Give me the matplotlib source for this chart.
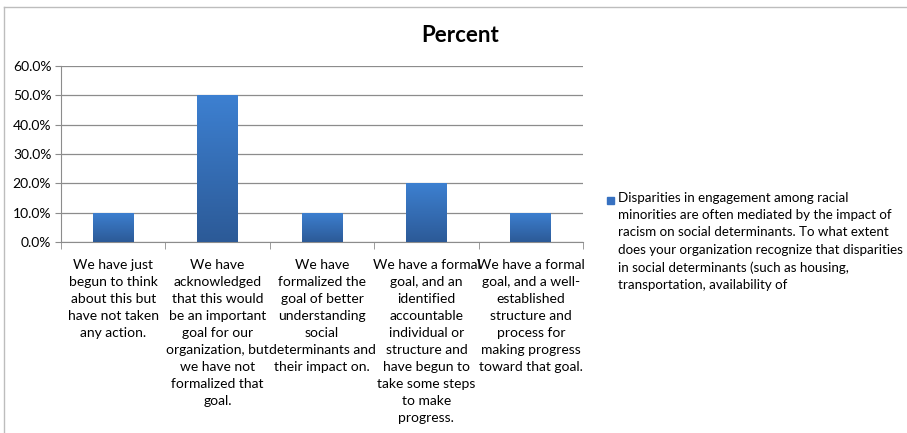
import matplotlib
matplotlib.use("Agg")
import matplotlib.pyplot as plt
import numpy as np
from matplotlib.patches import Rectangle
from matplotlib.lines import Line2D

plt.rcParams['font.family'] = ['Lato', 'DejaVu Sans']

categories = [
    "We have just\nbegun to think\nabout this but\nhave not taken\nany action.",
    "We have\nacknowledged\nthat this would\nbe an important\ngoal for our\norganization, but\nwe have not\nformalized that\ngoal.",
    "We have\nformalized the\ngoal of better\nunderstanding\nsocial\ndeterminants and\ntheir impact on.",
    "We have a formal\ngoal, and an\nidentified\naccountable\nindividual or\nstructure and\nhave begun to\ntake some steps\nto make\nprogress.",
    "We have a formal\ngoal, and a well-\nestablished\nstructure and\nprocess for\nmaking progress\ntoward that goal.",
]
percent = [10.0, 50.0, 10.0, 20.0, 10.0]
yticks = [0, 10, 20, 30, 40, 50, 60]
series_label = ("Disparities in engagement among racial\n"
                "minorities are often mediated by the impact of\n"
                "racism on social determinants. To what extent\n"
                "does your organization recognize that disparities\n"
                "in social determinants (such as housing,\n"
                "transportation, availability of")

W, H = 907, 433
fig = plt.figure(figsize=(W / 100, H / 100), dpi=100)
ax = fig.add_axes([61 / W, 1 - 242 / H, (583 - 61) / W, (242 - 66) / H])

x = np.arange(len(percent))
bars = ax.bar(x, percent, width=0.39, color="#3771c1", zorder=3)

# vertical gradient on each bar, lighter at the top
grad = np.linspace(0, 1, 256).reshape(-1, 1)
cmap = matplotlib.colors.LinearSegmentedColormap.from_list("bar", ["#2c5a97", "#3d80d1"])
for b in bars:
    x0, y0 = b.get_x(), b.get_y()
    w, h = b.get_width(), b.get_height()
    im = ax.imshow(grad, cmap=cmap, origin="lower", aspect="auto",
                   extent=(x0, x0 + w, y0, y0 + h), zorder=4)
    im.set_clip_path(b)

ax.set_xlim(-0.5, len(percent) - 0.5)
ax.set_ylim(0, 60)
ax.set_yticks(yticks)
ax.set_yticklabels([f"{v:.1f}%" for v in yticks], fontsize=10)
ax.set_xticks(x)
ax.set_xticklabels(categories, fontsize=10, linespacing=1.5, va="top")
ax.tick_params(axis="x", length=0, pad=12)
ax.tick_params(axis="y", length=4, color="#8c8c8c", pad=3)
ax.set_xticks(np.arange(-0.5, len(percent)), minor=True)
ax.tick_params(axis="x", which="minor", length=5, color="#8c8c8c")

ax.grid(axis="y", color="#8c8c8c", linewidth=0.9, zorder=0)
for s in ["top", "right"]:
    ax.spines[s].set_visible(False)
for s in ["left", "bottom"]:
    ax.spines[s].set_color("#8c8c8c")

fig.text(460 / W, 1 - 35 / H, "Percent", ha="center", va="center",
         fontsize=16, fontweight="bold")

# legend drawn by hand so the marker sits beside the first line
fig.patches.append(Rectangle((607 / W, 1 - 204 / H), 7 / W, 7 / H,
                             transform=fig.transFigure, color="#3771c1"))
fig.text(618 / W, 1 - 192 / H, series_label, ha="left", va="top",
         fontsize=9.6, linespacing=1.52)

# chart frame
fig.lines.append(Line2D([4 / W, 4 / W], [0, 1 - 7 / H], transform=fig.transFigure,
                        color="#bdbdbd", linewidth=1))
fig.lines.append(Line2D([4 / W, 1], [1 - 7 / H, 1 - 7 / H], transform=fig.transFigure,
                        color="#bdbdbd", linewidth=1))

fig.savefig("out.png", dpi=100)
